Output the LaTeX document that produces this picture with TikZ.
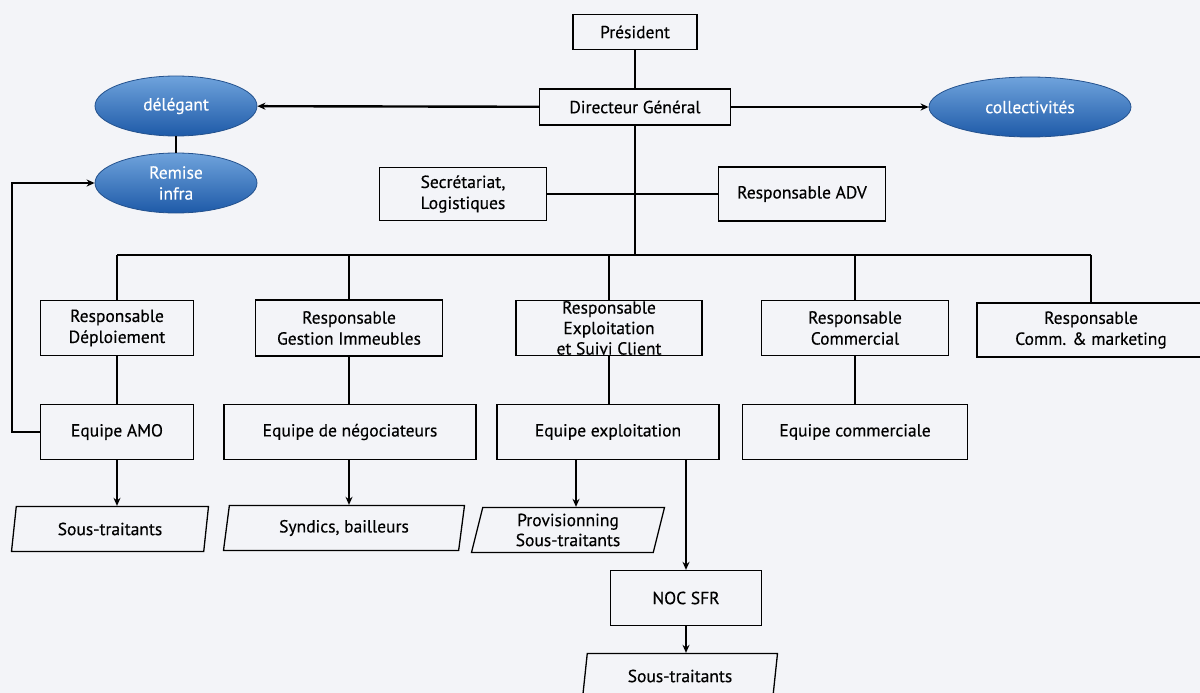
\documentclass[tikz,border=0pt]{standalone}
\usepackage{fontspec}
\setmainfont{PT Sans}
\newfontfamily\tfont{PT Sans}[FakeBold=0.4]
\usetikzlibrary{shapes.geometric,arrows.meta}
\definecolor{bg}{HTML}{F3F4F8}
\definecolor{ovtop}{HTML}{6FA3DC}
\definecolor{ovbot}{HTML}{1E5AA8}
\definecolor{ovedge}{HTML}{24528E}
\tikzset{
  box/.style={draw, line width=1.3pt, minimum width=#1, inner sep=2pt, align=center, font=\tfont\fontsize{17.5}{21}\selectfont},
  oval/.style={ellipse, draw=ovedge, line width=0.8pt, top color=ovtop, bottom color=ovbot, text=white, minimum width=162, minimum height=60, inner sep=0pt, align=center, font=\tfont\fontsize{17.5}{21}\selectfont},
  para/.style={trapezium, trapezium left angle=72, trapezium right angle=108, trapezium stretches body, draw, line width=1.3pt, minimum width=#1, minimum height=45, inner sep=1pt, align=center, font=\tfont\fontsize{17.5}{20}\selectfont},
  link/.style={line width=2.4pt},
  arr/.style={line width=2.4pt, -{Stealth[length=8pt,width=7pt]}}
}
\begin{document}
\begin{tikzpicture}[x=1pt,y=-1pt]
    \fill[bg] (0,0) rectangle (1200,693);
    \useasboundingbox (0,0) rectangle (1200,693);
    \node[box=124, minimum height=35] (pres) at (635, 32) {Président};
    \node[box=191, minimum height=36] (dg) at (635, 107) {Directeur Général};
    \node[oval] (del) at (176, 106) {délégant};
    \node[oval, minimum width=202] (coll) at (1030, 107) {collectivités};
    \node[oval] (rem) at (176, 183) {Remise\\infra};
    \node[box=167, minimum height=53] (sec) at (463, 194) {Secrétariat,\\Logistiques};
    \node[box=167, minimum height=54] (adv) at (802, 194) {Responsable ADV};
    \node[box=153, minimum height=55] (rdep) at (117, 328) {Responsable\\Déploiement};
    \node[box=187, minimum height=56] (rges) at (349, 328) {Responsable\\Gestion Immeubles};
    \node[box=186, minimum height=55] (rexp) at (609, 328) {};
    \node[align=center, font=\tfont\fontsize{17.5}{20.5}\selectfont, inner sep=0pt] (rexpt) at (609, 328) {Responsable\\Exploitation\\et Suivi Client};
    \node[box=187, minimum height=55] (rcom) at (855, 328) {Responsable\\Commercial};
    \node[box=228, minimum height=54] (rmkt) at (1091, 330) {Responsable\\Comm. \& marketing};
    \node[box=153, minimum height=55] (eamo) at (117, 432) {Equipe AMO};
    \node[box=252, minimum height=55] (eneg) at (350, 432) {Equipe de négociateurs};
    \node[box=222, minimum height=55] (eexp) at (608, 432) {Equipe exploitation};
    \node[box=225, minimum height=55] (ecom) at (855, 432) {Equipe commerciale};
    \node[para=197] (st1) at (110, 529) {Sous-traitants};
    \node[para=241] (synd) at (344, 528) {Syndics, bailleurs};
    \node[para=193] (prov) at (568, 530) {Provisionning\\Sous-traitants};
    \node[box=151, minimum height=55] (noc) at (686, 598) {NOC SFR};
    \node[para=195] (st2) at (680, 676) {Sous-traitants};
    \coordinate (bus) at (635, 255);
    \coordinate (loop) at (12, 432);
    \draw[link] (pres) -- (dg);
    \draw[arr] (dg) -- (del);
    \draw[arr] (dg) -- (coll);
    \draw[link] (del) -- (rem);
    \draw[link] (sec) -- (adv);
    \draw[link] (dg.south) -- (bus);
    \draw[link] (bus -| rdep.north) -- (bus -| rmkt.north);
    \foreach \n in {rdep, rges, rexp, rcom, rmkt}
      \draw[link] (bus -| \n.north) -- (\n.north);
    \draw[link] (rdep) -- (eamo);
    \draw[link] (rges.south) -- (rges.south |- eneg.north);
    \draw[link] (rexp.south) -- (rexp.south |- eexp.north);
    \draw[link] (rcom) -- (ecom);
    \draw[arr] (eamo.south) -- (eamo.south |- st1.north);
    \draw[arr] (eneg.south -| rges.south) -- (rges.south |- synd.north);
    \draw[arr] ([xshift=8]prov.north |- eexp.south) -- ([xshift=8]prov.north);
    \draw[arr] (noc.north |- eexp.south) -- (noc.north);
    \draw[arr] (noc.south) -- (noc.south |- st2.north);
    \draw[arr] (eamo.west) -- (loop) |- (rem.west);
  \end{tikzpicture}
\end{document}
